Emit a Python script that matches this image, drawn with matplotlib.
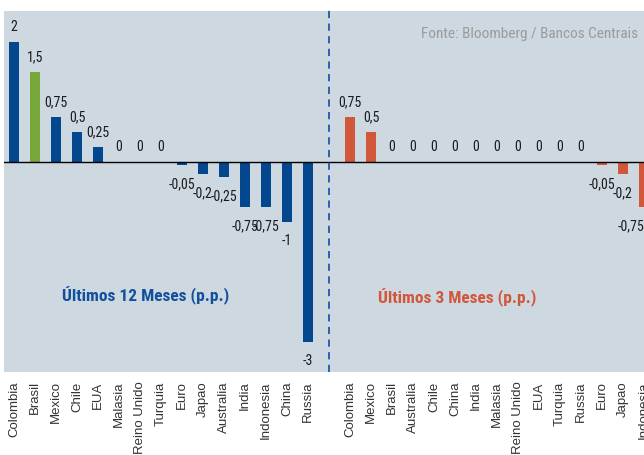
import matplotlib.pyplot as plt

# ultimos 12 meses
countries_12m = ['Colombia', 'Brasil', 'Mexico', 'Chile', 'EUA', 'Malasia', 'Reino Unido', 'Turquia',
                 'Euro', 'Japao', 'Australia', 'India', 'Indonesia', 'China', 'Russia']
values_12m = [2, 1.5, 0.75, 0.5, 0.25, 0, 0, 0, -0.05, -0.2, -0.25, -0.75, -0.75, -1, -3]

# ultimos 3 meses
countries_3m = ['Colombia', 'Mexico', 'Brasil', 'Australia', 'Chile', 'China', 'India', 'Malasia',
                'Reino Unido', 'EUA', 'Turquia', 'Russia', 'Euro', 'Japao', 'Indonesia']
values_3m = [0.75, 0.5, 0, 0, 0, 0, 0, 0, 0, 0, 0, 0, -0.05, -0.2, -0.75]

blue = '#03478f'
green = '#77a83b'
orange = '#d2573a'
bg = '#cdd8e1'
narrow = ['Roboto Condensed', 'Liberation Sans']

plt.rcParams['font.family'] = ['Liberation Sans', 'DejaVu Sans']


def fmt(v):
    return ('%g' % v).replace('.', ',')


fig = plt.figure(figsize=(6.44, 4.56), dpi=100)
ax = fig.add_axes([4 / 644, 1 - 373 / 456, 1 - 4 / 644, (373 - 12) / 456])
ax.set_facecolor(bg)

n = len(countries_12m)
x_left = list(range(n))
x_right = [n + 1 + i for i in range(len(countries_3m))]

colors_left = [green if c == 'Brasil' else blue for c in countries_12m]
ax.bar(x_left, values_12m, width=0.43, color=colors_left, zorder=2)
ax.bar(x_right, values_3m, width=0.43, color=orange, zorder=2)

for xs, vals in [(x_left, values_12m), (x_right, values_3m)]:
    for x, v in zip(xs, vals):
        off = 11.5 if v >= 0 else -13
        ha = 'right' if x == x_right[-1] else 'center'
        ax.annotate(fmt(v), (x, v), xytext=(0, off), textcoords='offset points',
                    ha=ha, va='center', fontsize=10, family=narrow, color='#1a1a1a')

ax.axhline(0, color='black', lw=1, zorder=3)
ax.axvline(n, color='#1f5aa6', lw=1.3, ls=(0, (4, 3)), ymin=0, ymax=1.012, clip_on=False, zorder=3)

ax.set_xlim(-0.476, 30.0)
ax.set_ylim(-3.5, 2.52)
ax.set_xticks(x_left + x_right)
ax.set_xticklabels(countries_12m + countries_3m, rotation=90, fontsize=9.5, color='#333333')
ax.tick_params(axis='x', length=0, pad=6)
ax.set_yticks([])
for s in ax.spines.values():
    s.set_visible(False)

ax.text(0.222, 0.213, 'Últimos 12 Meses (p.p.)', transform=ax.transAxes, ha='center', va='center',
        fontsize=12.5, fontweight='bold', family=narrow, color='#124f9c')
ax.text(0.708, 0.208, 'Últimos 3 Meses (p.p.)', transform=ax.transAxes, ha='center', va='center',
        fontsize=12.5, fontweight='bold', family=narrow, color=orange)
ax.text(0.99, 0.939, 'Fonte: Bloomberg / Bancos Centrais', transform=ax.transAxes, ha='right',
        va='center', fontsize=11, family=narrow, color='#9b9b9b')

fig.savefig('out.png', dpi=100)
